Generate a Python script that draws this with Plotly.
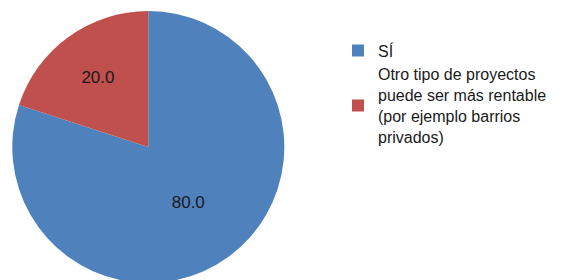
import plotly.graph_objects as go

labels = ["SÍ", "Otro tipo de proyectos<br>puede ser más rentable<br>(por ejemplo barrios<br>privados)"]
values = [80.0, 20.0]
colors = ["#4F81BD", "#C0504D"]

fig = go.Figure(go.Pie(
    labels=labels,
    values=values,
    sort=False,
    direction="clockwise",
    rotation=0,
    marker=dict(colors=colors, line=dict(width=0)),
    texttemplate="%{value:.1f}",
    textposition="inside",
    insidetextorientation="horizontal",
    textfont=dict(family="Liberation Sans, Arial", size=17, color="#1a1a1a"),
    domain=dict(x=[0.0076, 0.4882], y=[0.0179, 0.9893]),
    hoverinfo="label+value",
))

fig.update_layout(
    width=566, height=280,
    margin=dict(l=0, r=0, t=0, b=0),
    paper_bgcolor="white",
    plot_bgcolor="white",
    showlegend=True,
    legend=dict(
        x=0.583, y=0.909, xanchor="left", yanchor="top",
        font=dict(family="Liberation Sans, Arial", size=16, color="#1a1a1a"),
        bgcolor="rgba(0,0,0,0)",
        itemwidth=30,
        tracegroupgap=0,
    ),
)

fig.write_html("out.html")
